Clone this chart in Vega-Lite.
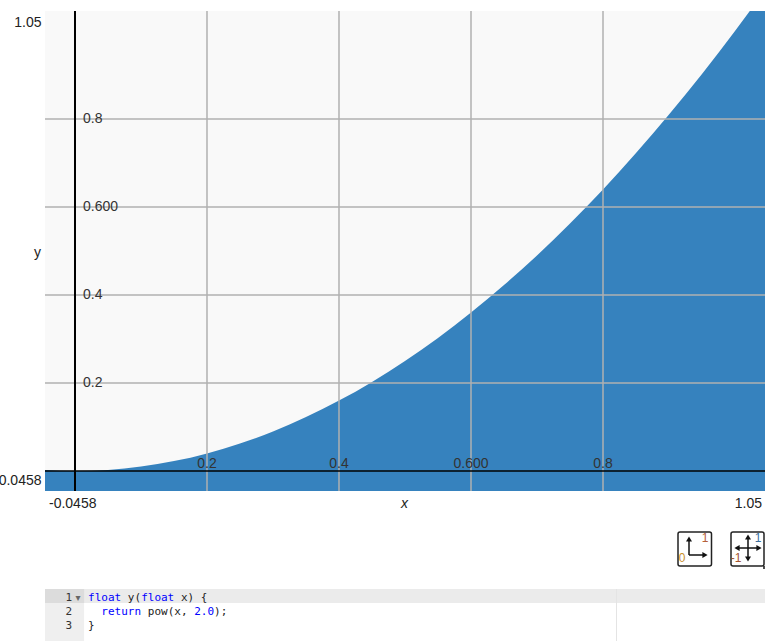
{
"$schema":"https://vega.github.io/schema/vega-lite/v6.json",
"padding":{"left":-7,"top":10,"right":0,"bottom":0},
"background":"white",
"bounds":"flush",
"spacing":22,
"config":{"font":"Liberation Sans","view":{"stroke":null}},
"datasets":{
"curve":[{"x":-0.0458,"y":0.0021},{"x":0,"y":0},{"x":0.05,"y":0.0025},{"x":0.1,"y":0.01},{"x":0.15,"y":0.0225},{"x":0.2,"y":0.04},{"x":0.25,"y":0.0625},{"x":0.3,"y":0.09},{"x":0.35,"y":0.1225},{"x":0.4,"y":0.16},{"x":0.45,"y":0.2025},{"x":0.5,"y":0.25},{"x":0.55,"y":0.3025},{"x":0.6,"y":0.36},{"x":0.65,"y":0.4225},{"x":0.7,"y":0.49},{"x":0.75,"y":0.5625},{"x":0.8,"y":0.64},{"x":0.85,"y":0.7225},{"x":0.9,"y":0.81},{"x":0.95,"y":0.9025},{"x":1.0,"y":1.0},{"x":1.05,"y":1.1025}],
"xticks":[{"x":0.2,"y":0,"label":"0.2"},{"x":0.4,"y":0,"label":"0.4"},{"x":0.6,"y":0,"label":"0.600"},{"x":0.8,"y":0,"label":"0.8"}],
"yticks":[{"x":0,"y":0.2,"label":"0.2"},{"x":0,"y":0.4,"label":"0.4"},{"x":0,"y":0.6,"label":"0.600"},{"x":0,"y":0.8,"label":"0.8"}],
"code":[
{"line":0.5,"col":0,"text":"float","kind":"keyword"},
{"line":0.5,"col":6,"text":"y(","kind":"plain"},
{"line":0.5,"col":8,"text":"float","kind":"keyword"},
{"line":0.5,"col":14,"text":"x) {","kind":"plain"},
{"line":1.5,"col":2,"text":"return","kind":"keyword"},
{"line":1.5,"col":9,"text":"pow(x, ","kind":"plain"},
{"line":1.5,"col":16,"text":"2.0","kind":"keyword"},
{"line":1.5,"col":19,"text":");","kind":"plain"},
{"line":2.5,"col":0,"text":"}","kind":"plain"}],
"gutter":[{"line":0.5,"n":"1"},{"line":1.5,"n":"2"},{"line":2.5,"n":"3"}],
"boxes":[{"x0":633,"x1":666.5,"y0":1,"y1":35},{"x0":686,"x1":719,"y0":1,"y1":35}],
"segments":[
{"a":644,"b":24,"a2":644,"b2":8},
{"a":644,"b":24,"a2":660,"b2":24},
{"a":692,"b":17,"a2":714,"b2":17},
{"a":703,"b":6,"a2":703,"b2":28},
{"a":719,"b":35,"a2":719,"b2":38}],
"heads":[
{"a":644,"b":8,"s":"triangle-up"},
{"a":660,"b":24,"s":"triangle-right"},
{"a":692,"b":17,"s":"triangle-left"},
{"a":714,"b":17,"s":"triangle-right"},
{"a":703,"b":6,"s":"triangle-up"},
{"a":703,"b":28,"s":"triangle-down"}],
"iconlabels":[
{"a":660,"b":7,"t":"1","k":"max"},
{"a":637,"b":27,"t":"0","k":"min"},
{"a":713,"b":7,"t":"1","k":"pos"},
{"a":691,"b":27,"t":"-1","k":"neg"}]
},
"vconcat":[
{"width":720,"height":480,
 "view":{"fill":"#f9f9f9","stroke":null},
 "layer":[
 {"data":{"name":"curve"},"mark":{"type":"area","color":"#3682be","clip":true,"interpolate":"monotone"},
  "encoding":{
   "x":{"field":"x","type":"quantitative","scale":{"domain":[-0.04545,1.04545],"nice":false,"zero":false},
    "axis":{"values":[-0.04545,1.04545],"labelExpr":"datum.value<0 ? '-0.0458' : '1.05'","grid":false,"domain":false,"ticks":false,"labelFlush":true,"labelFlushOffset":-3.5,"labelFontSize":14,"labelColor":"#222","labelPadding":5,"title":"x","titleFontStyle":"italic","titleFontWeight":"normal","titleFontSize":14,"titleColor":"#222","titleX":359,"titleY":16,"titleBaseline":"alphabetic"}},
   "y":{"field":"y","type":"quantitative","scale":{"domain":[-0.04545,1.04545],"nice":false,"zero":false},
    "axis":{"values":[-0.04545,1.04545],"labelExpr":"datum.value<0 ? '-0.0458' : '1.05'","grid":false,"domain":false,"ticks":false,"labelFlush":true,"labelFlushOffset":-4,"labelFontSize":14,"labelColor":"#222","labelPadding":4,"title":"y","titleAngle":0,"titleFontWeight":"normal","titleFontSize":14,"titleColor":"#222","titleX":-8,"titleY":241,"titleAlign":"center","titleBaseline":"middle"}},
   "y2":{"datum":-0.04545}}},
 {"data":{"name":"xticks"},"mark":{"type":"rule","color":"#b0b0b0","strokeWidth":1.5},"encoding":{"x":{"field":"x","type":"quantitative"}}},
 {"data":{"name":"yticks"},"mark":{"type":"rule","color":"#b0b0b0","strokeWidth":1.5},"encoding":{"y":{"field":"y","type":"quantitative"}}},
 {"data":{"values":[{"x":0}]},"mark":{"type":"rule","color":"#000","strokeWidth":2},"encoding":{"x":{"field":"x","type":"quantitative"}}},
 {"data":{"values":[{"y":0}]},"mark":{"type":"rule","color":"#000","strokeWidth":1.5},"encoding":{"y":{"field":"y","type":"quantitative"}}},
 {"data":{"name":"xticks"},"mark":{"type":"text","fontSize":14,"color":"#333","dy":-7,"align":"center","baseline":"middle"},"encoding":{"x":{"field":"x","type":"quantitative"},"y":{"field":"y","type":"quantitative"},"text":{"field":"label"}}},
 {"data":{"name":"yticks"},"mark":{"type":"text","fontSize":14,"color":"#333","dx":8,"align":"left","baseline":"middle"},"encoding":{"x":{"field":"x","type":"quantitative"},"y":{"field":"y","type":"quantitative"},"text":{"field":"label"}}}
 ]},
{"width":720,"height":54,
 "encoding":{"x":{"type":"quantitative","scale":{"domain":[0,720],"nice":false,"zero":false},"axis":null},"y":{"type":"quantitative","scale":{"domain":[-18,36],"reverse":true,"nice":false,"zero":false},"axis":null}},
 "layer":[
 {"data":{"name":"boxes"},"mark":{"type":"rect","fill":"white","stroke":"#222","strokeWidth":1.5,"cornerRadius":2},
  "encoding":{"x":{"field":"x0","type":"quantitative"},"x2":{"field":"x1"},"y":{"field":"y0","type":"quantitative"},"y2":{"field":"y1"}}},
 {"data":{"name":"segments"},"mark":{"type":"rule","color":"#111","strokeWidth":1.5},
  "encoding":{"x":{"field":"a","type":"quantitative"},"x2":{"field":"a2"},"y":{"field":"b","type":"quantitative"},"y2":{"field":"b2"}}},
 {"data":{"name":"heads"},"mark":{"type":"point","filled":true,"color":"#111","size":36,"opacity":1},
  "encoding":{"x":{"field":"a","type":"quantitative"},"y":{"field":"b","type":"quantitative"},"shape":{"field":"s","type":"nominal","scale":null}}},
 {"data":{"name":"iconlabels"},"transform":[{"filter":"datum.k=='max'"}],"mark":{"type":"text","fontSize":12,"align":"center","baseline":"middle","color":"#b5603a"},
  "encoding":{"x":{"field":"a","type":"quantitative"},"y":{"field":"b","type":"quantitative"},"text":{"field":"t"}}},
 {"data":{"name":"iconlabels"},"transform":[{"filter":"datum.k=='min'"}],"mark":{"type":"text","fontSize":12,"align":"center","baseline":"middle","color":"#c98f2c"},
  "encoding":{"x":{"field":"a","type":"quantitative"},"y":{"field":"b","type":"quantitative"},"text":{"field":"t"}}},
 {"data":{"name":"iconlabels"},"transform":[{"filter":"datum.k=='pos'"}],"mark":{"type":"text","fontSize":12,"align":"center","baseline":"middle","color":"#3b6f9e"},
  "encoding":{"x":{"field":"a","type":"quantitative"},"y":{"field":"b","type":"quantitative"},"text":{"field":"t"}}},
 {"data":{"name":"iconlabels"},"transform":[{"filter":"datum.k=='neg'"}],"mark":{"type":"text","fontSize":12,"align":"center","baseline":"middle","color":"#a5562f"},
  "encoding":{"x":{"field":"a","type":"quantitative"},"y":{"field":"b","type":"quantitative"},"text":{"field":"t"}}}
 ]},
{"width":720,"height":52,
 "encoding":{"x":{"type":"quantitative","scale":{"domain":[-6.5,102.1],"nice":false,"zero":false},"axis":null},"y":{"type":"quantitative","scale":{"domain":[0,3.71],"reverse":true,"nice":false,"zero":false},"axis":null}},
 "layer":[
 {"data":{"values":[{"c0":-6.5,"c1":102.1,"l0":0,"l1":1}]},"mark":{"type":"rect","color":"#ebebeb"},
  "encoding":{"x":{"field":"c0","type":"quantitative"},"x2":{"field":"c1"},"y":{"field":"l0","type":"quantitative"},"y2":{"field":"l1"}}},
 {"data":{"values":[{"c0":-6.5,"c1":-0.6,"l0":1,"l1":3.71}]},"mark":{"type":"rect","color":"#efefef"},
  "encoding":{"x":{"field":"c0","type":"quantitative"},"x2":{"field":"c1"},"y":{"field":"l0","type":"quantitative"},"y2":{"field":"l1"}}},
 {"data":{"values":[{"c0":-6.5,"c1":-0.6,"l0":0,"l1":1}]},"mark":{"type":"rect","color":"#dcdcdc"},
  "encoding":{"x":{"field":"c0","type":"quantitative"},"x2":{"field":"c1"},"y":{"field":"l0","type":"quantitative"},"y2":{"field":"l1"}}},
 {"data":{"values":[{"margin":79.7}]},"mark":{"type":"rule","color":"#e4e4e4","strokeWidth":1},"encoding":{"x":{"field":"margin","type":"quantitative"}}},
 {"data":{"name":"gutter"},"mark":{"type":"text","font":"DejaVu Sans Mono","fontSize":11,"align":"right","baseline":"middle","dx":-16,"dy":1.5,"color":"#333"},
  "encoding":{"x":{"datum":0},"y":{"field":"line","type":"quantitative"},"text":{"field":"n"}}},
 {"data":{"values":[{"line":0.5,"g":"▾"}]},"mark":{"type":"text","fontSize":10,"font":"DejaVu Sans","align":"center","baseline":"middle","dx":-10,"dy":1.5,"color":"#666"},
  "encoding":{"x":{"datum":0},"y":{"field":"line","type":"quantitative"},"text":{"field":"g"}}},
 {"data":{"name":"code"},"transform":[{"filter":"datum.kind=='keyword'"}],"mark":{"type":"text","font":"DejaVu Sans Mono","fontSize":11,"align":"left","baseline":"middle","dy":1.5,"color":"#0000ff"},
  "encoding":{"x":{"field":"col","type":"quantitative"},"y":{"field":"line","type":"quantitative"},"text":{"field":"text"}}},
 {"data":{"name":"code"},"transform":[{"filter":"datum.kind=='plain'"}],"mark":{"type":"text","font":"DejaVu Sans Mono","fontSize":11,"align":"left","baseline":"middle","dy":1.5,"color":"#222222"},
  "encoding":{"x":{"field":"col","type":"quantitative"},"y":{"field":"line","type":"quantitative"},"text":{"field":"text"}}}
 ]}
]}
